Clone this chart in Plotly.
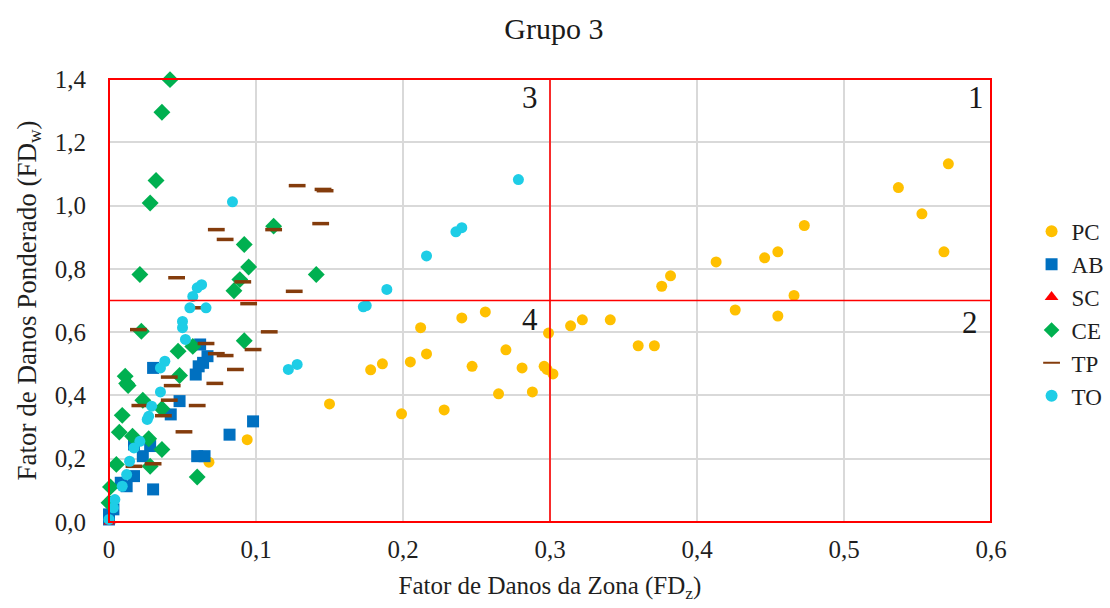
import plotly.graph_objects as go

# Fator de Danos da Zona (FDz) x Fator de Danos Ponderado (FDw), per typology
pc_x = [0.571, 0.537, 0.553, 0.568, 0.473, 0.455, 0.446, 0.413, 0.382, 0.376,
        0.466, 0.426, 0.455, 0.299, 0.314, 0.322, 0.341, 0.360, 0.371, 0.256,
        0.240, 0.212, 0.270, 0.216, 0.205, 0.186, 0.178, 0.247, 0.281, 0.296,
        0.298, 0.302, 0.265, 0.288, 0.150, 0.199, 0.228, 0.094, 0.068]
pc_y = [1.132, 1.057, 0.974, 0.854, 0.937, 0.854, 0.835, 0.822, 0.778, 0.745,
        0.716, 0.670, 0.651, 0.597, 0.620, 0.639, 0.639, 0.557, 0.557, 0.664,
        0.645, 0.614, 0.544, 0.531, 0.506, 0.500, 0.481, 0.492, 0.487, 0.492,
        0.482, 0.468, 0.405, 0.411, 0.373, 0.342, 0.354, 0.260, 0.189]

ab_x = [0.062, 0.067, 0.064, 0.061, 0.059, 0.030, 0.048, 0.042, 0.098, 0.082,
        0.017, 0.028, 0.023, 0.060, 0.065, 0.017, 0.008, 0.012, 0.030, 0.003,
        0.000, 0.000]
ab_y = [0.561, 0.524, 0.503, 0.492, 0.466, 0.487, 0.382, 0.340, 0.318, 0.276,
        0.245, 0.240, 0.208, 0.208, 0.208, 0.145, 0.124, 0.113, 0.103, 0.040,
        0.024, 0.008]

sc_x = [0.000, 0.001]
sc_y = [0.000, 0.004]

ce_x = [0.0415, 0.036, 0.032, 0.028, 0.112, 0.092, 0.095, 0.089, 0.085, 0.021,
        0.022, 0.092, 0.047, 0.057, 0.048, 0.011, 0.012, 0.141, 0.013, 0.023,
        0.036, 0.009, 0.007, 0.016, 0.027, 0.036, 0.005, 0.028, 0.060, 0.001,
        0.000]
ce_y = [1.398, 1.295, 1.079, 1.008, 0.935, 0.877, 0.806, 0.766, 0.731, 0.782,
        0.603, 0.573, 0.540, 0.555, 0.463, 0.461, 0.438, 0.782, 0.431, 0.385,
        0.358, 0.337, 0.284, 0.271, 0.263, 0.229, 0.182, 0.176, 0.142, 0.111,
        0.061]

tp_x = [0.128, 0.1456, 0.147, 0.144, 0.126, 0.073, 0.079, 0.112, 0.046, 0.091,
        0.095, 0.061, 0.020, 0.109, 0.066, 0.098, 0.073, 0.079, 0.086, 0.041,
        0.043, 0.072, 0.041, 0.021, 0.060, 0.037, 0.051, 0.017, 0.030]
tp_y = [1.063, 1.051, 1.047, 0.943, 0.729, 0.924, 0.893, 0.924, 0.772, 0.759,
        0.690, 0.677, 0.608, 0.601, 0.564, 0.545, 0.532, 0.526, 0.482, 0.458,
        0.431, 0.438, 0.385, 0.368, 0.368, 0.336, 0.285, 0.176, 0.184]

to_x = [0.2785, 0.236, 0.240, 0.216, 0.189, 0.173, 0.175, 0.122, 0.128, 0.084,
        0.060, 0.063, 0.057, 0.055, 0.066, 0.050, 0.050, 0.052, 0.038, 0.035,
        0.035, 0.029, 0.027, 0.026, 0.021, 0.017, 0.014, 0.012, 0.009, 0.004,
        0.003, 0.000]
to_y = [1.082, 0.917, 0.930, 0.841, 0.735, 0.680, 0.684, 0.482, 0.498, 1.012,
        0.740, 0.750, 0.713, 0.677, 0.677, 0.634, 0.614, 0.577, 0.508, 0.487,
        0.411, 0.366, 0.334, 0.324, 0.255, 0.234, 0.192, 0.150, 0.113, 0.071,
        0.045, 0.008]

# Quadrant thresholds and labels
x_max = 0.6
y_max = 1.4
x_limit = 0.3
y_limit = 0.7
quad_labels = ["1", "2", "3", "4"]
quad_x = [0.5896, 0.5858, 0.2864, 0.2864]
quad_y = [1.343, 0.630, 1.343, 0.640]

FONT = "Liberation Serif, Times New Roman, serif"
TXT = "#1f1f1f"

fig = go.Figure()

series = [
    ("PC", pc_x, pc_y, dict(symbol="circle", size=11, color="#FFC000")),
    ("AB", ab_x, ab_y, dict(symbol="square", size=12, color="#0070C0")),
    ("SC", sc_x, sc_y, dict(symbol="triangle-up", size=10, color="#FF0000")),
    ("CE", ce_x, ce_y, dict(symbol="diamond", size=13, color="#00B050")),
    ("TP", tp_x, tp_y, dict(symbol="line-ew", size=12, color="#843C0C",
                            line=dict(color="#843C0C", width=3.5))),
    ("TO", to_x, to_y, dict(symbol="circle", size=11, color="#1ECDE6")),
]
for name, xs, ys, mk in series:
    fig.add_trace(go.Scatter(x=xs, y=ys, mode="markers", name=name,
                             marker=mk, cliponaxis=False))

# Red frame and quadrant dividers (paper coordinates so the frame is not clipped)
fx = lambda v: v / x_max
fy = lambda v: v / y_max
red = dict(color="#FF0000", width=1.6)
fig.add_shape(type="rect", xref="paper", yref="paper", x0=0, x1=1, y0=0, y1=1,
              line=dict(color="#FF0000", width=2), layer="above")
fig.add_shape(type="line", xref="paper", yref="paper", x0=fx(x_limit), x1=fx(x_limit),
              y0=0, y1=1, line=red, layer="above")
fig.add_shape(type="line", xref="paper", yref="paper", x0=0, x1=1,
              y0=fy(y_limit), y1=fy(y_limit), line=red, layer="above")

for t, qx, qy in zip(quad_labels, quad_x, quad_y):
    fig.add_annotation(x=qx, y=qy, xref="x", yref="y", text=t, showarrow=False,
                       font=dict(family=FONT, size=31, color="#1a1a1a"))

fig.update_layout(
    width=1110, height=608,
    margin=dict(l=109, r=119, t=79, b=86, autoexpand=False),
    paper_bgcolor="white", plot_bgcolor="white",
    separators=", ",
    title=dict(text="Grupo 3", x=0.499, xanchor="center", y=0.953, yanchor="middle",
               font=dict(family=FONT, size=30, color="#1a1a1a")),
    font=dict(family=FONT, size=24, color=TXT),
    legend=dict(x=1.046, y=0.47, xanchor="left", yanchor="middle",
                font=dict(family=FONT, size=23, color=TXT),
                itemsizing="constant"),
    showlegend=True,
)

fig.update_xaxes(range=[0, x_max], dtick=0.1, tick0=0, tickformat="~g",
                 showgrid=True, gridcolor="#D9D9D9", gridwidth=1.5,
                 zeroline=False, showline=False, ticks="", ticklabelstandoff=10,
                 tickfont=dict(family=FONT, size=25, color=TXT),
                 title=dict(text="Fator de Danos da Zona (FD<sub>z</sub>)", standoff=14,
                            font=dict(family=FONT, size=25, color=TXT)))
fig.update_yaxes(range=[0, y_max], dtick=0.2, tick0=0, tickformat=".1f",
                 showgrid=True, gridcolor="#D9D9D9", gridwidth=1.5,
                 zeroline=False, showline=False, ticks="", ticklabelstandoff=22,
                 tickfont=dict(family=FONT, size=25, color=TXT),
                 title=dict(text="Fator de Danos Ponderado (FD<sub>w</sub>)", standoff=10,
                            font=dict(family=FONT, size=27, color=TXT)))

fig.write_html("out.html")
